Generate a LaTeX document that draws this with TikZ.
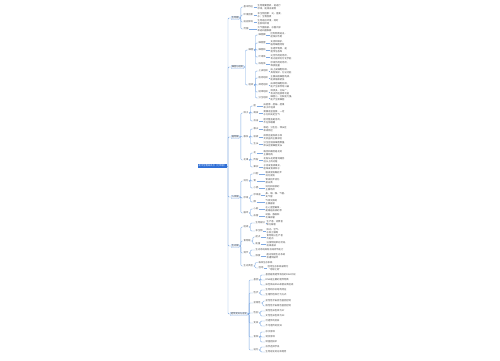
\documentclass[tikz,border=0pt]{standalone}
\usepackage{fontspec}
\newfontfamily\cjk{Noto Sans CJK SC}
\usepackage{tikz}
\usetikzlibrary{positioning}
\definecolor{mapRaiz}{HTML}{2F6FD6}
\definecolor{mapLinea}{HTML}{7FAAE3}
\definecolor{mapCaja}{HTML}{EEF4FD}
\definecolor{mapTexto}{HTML}{4A4A4A}
\colorlet{colBorde}{mapLinea!70}

\tikzset{
  raiz/.style={fill=mapRaiz, text=white, inner xsep=0.8pt, inner ysep=1.1pt},
  rama/.style={anchor=west, draw=colBorde, fill=mapCaja, line width=0.3pt, rounded corners=0.6pt, inner sep=0.6pt, text=mapTexto},
  etiq/.style={anchor=west, inner sep=0.5pt, text=mapTexto},
  hoja/.style={anchor=west, inner sep=0.5pt, align=left, text=mapTexto},
  conn/.style={draw=mapLinea, line width=0.4pt, rounded corners=1pt}
}

\begin{document}
\begin{tikzpicture}[x=1pt, y=-1pt, font=\cjk\fontsize{2.3}{2.8}\selectfont]
        \fill[white] (0,0) rectangle (500,360);
        \useasboundingbox (0,0) rectangle (500,360);

        % Raíz
        \node[raiz] (raiz) at (212.5,166) {初中生物知识点（七年级）};
        \coordinate (tronco) at (228,166);

        % Ramas principales
        \node[rama] (b1) at (231,18) {生物圈};
        \node[rama] (b2) at (231,67) {细胞与组织};
        \node[rama] (b3) at (231,137) {植物篇};
        \node[rama] (b4) at (231,197) {人体篇};
        \node[rama] (b5) at (231,246) {生态篇};
        \node[rama] (b6) at (230,314) {遗传变异与进化};

        % Rama 1
        \node[etiq] (b1a) at (243,7) {基本特征};
        \node[etiq] (b1b) at (243,15) {环境因素};
        \node[etiq] (b1c) at (243,22) {适应影响};
        \node[etiq] (b1d) at (243,29) {范围};
        \node[hoja] (b1a-t) at (257,7) {生物需要营养，能进行\\呼吸，能排出废物};
        \node[hoja] (b1b-t) at (257,15) {非生物因素：光、温度、\\水；生物因素};
        \node[hoja] (b1c-t) at (257,22) {生物适应环境，同时\\也影响环境};
        \node[hoja] (b1d-t) at (257,29) {大气圈底部、水圈大部\\和岩石圈表面};

        % Rama 2
        \node[etiq] (b2a) at (248,50) {细胞};
        \node[etiq] (b2b) at (248,85) {组织};
        \node[etiq] (b2a1) at (258,35) {细胞膜};
        \node[etiq] (b2a2) at (258,43) {细胞壁};
        \node[etiq] (b2a3) at (258,50) {细胞核};
        \node[etiq] (b2a4) at (258,57) {叶绿体};
        \node[etiq] (b2a5) at (258,64) {线粒体};
        \node[hoja] (b2a1-t) at (270,35) {控制物质进出，\\起保护作用};
        \node[hoja] (b2a2-t) at (270,43) {支持和保护，\\植物细胞特有};
        \node[hoja] (b2a3-t) at (270,50) {含遗传物质，是\\遗传信息库};
        \node[hoja] (b2a4-t) at (270,57) {光合作用的场所，\\将光能转化为化学能};
        \node[hoja] (b2a5-t) at (270,64) {呼吸作用的场所，\\释放能量};
        \node[etiq] (b2b1) at (258,71) {上皮组织};
        \node[etiq] (b2b2) at (258,78) {肌肉组织};
        \node[etiq] (b2b3) at (258,85) {神经组织};
        \node[etiq] (b2b4) at (258,92) {结缔组织};
        \node[etiq] (b2b5) at (258,98) {分生组织};
        \node[hoja] (b2b1-t) at (270,71) {由上皮细胞构成，\\具有保护、分泌功能};
        \node[hoja] (b2b2-t) at (270,78) {主要由肌细胞构成，\\能收缩和舒张};
        \node[hoja] (b2b3-t) at (270,85) {由神经细胞构成，\\能产生和传导兴奋};
        \node[hoja] (b2b4-t) at (270,92) {种类多，分布广，\\有支持连接等功能};
        \node[hoja] (b2b5-t) at (270,98) {细胞小，分裂能力强，\\能产生新细胞};

        % Rama 3
        \node[etiq] (b3a) at (243,113) {种子};
        \node[etiq] (b3b) at (243,137) {根系};
        \node[etiq] (b3c) at (243,160) {花果};
        \node[etiq] (b3a1) at (253,106) {胚};
        \node[etiq] (b3a2) at (253,113) {萌发};
        \node[etiq] (b3a3) at (253,121) {自身};
        \node[hoja] (b3a1-t) at (263,106) {由胚芽、胚轴、胚根\\和子叶组成};
        \node[hoja] (b3a2-t) at (263,113) {需要适宜温度、一定\\水分和充足空气};
        \node[hoja] (b3a3-t) at (263,121) {胚完整且是活的，\\不在休眠期};
        \node[etiq] (b3b1) at (253,129) {根尖};
        \node[etiq] (b3b2) at (253,137) {吸收};
        \node[etiq] (b3b3) at (253,144) {生长};
        \node[hoja] (b3b1-t) at (263,129) {根冠、分生区、伸长区\\和成熟区};
        \node[hoja] (b3b2-t) at (263,137) {成熟区是吸收水和\\无机盐的主要部位};
        \node[hoja] (b3b3-t) at (263,144) {分生区增加细胞数量，\\伸长区使细胞变长};
        \node[etiq] (b3c1) at (253,153) {花};
        \node[etiq] (b3c2) at (253,160) {传粉};
        \node[etiq] (b3c3) at (253,167) {果实};
        \node[hoja] (b3c1-t) at (263,153) {雄蕊和雌蕊是花的\\主要结构};
        \node[hoja] (b3c2-t) at (263,160) {花粉从花药落到雌蕊\\柱头上的过程};
        \node[hoja] (b3c3-t) at (263,167) {子房发育成果实，\\胚珠发育成种子};

        % Rama 4
        \node[etiq] (b4a) at (243,181) {消化};
        \node[etiq] (b4b) at (243,198) {呼吸};
        \node[etiq] (b4c) at (243,213) {循环};
        \node[etiq] (b4a1) at (253,174) {口腔};
        \node[etiq] (b4a2) at (253,181) {胃};
        \node[etiq] (b4a3) at (253,188) {小肠};
        \node[hoja] (b4a1-t) at (265,174) {唾液淀粉酶初步\\消化淀粉};
        \node[hoja] (b4a2-t) at (265,181) {胃液初步消化\\蛋白质};
        \node[hoja] (b4a3-t) at (265,188) {消化和吸收的\\主要场所};
        \node[etiq] (b4b1) at (253,195) {呼吸道};
        \node[etiq] (b4b2) at (253,202) {肺};
        \node[hoja] (b4b1-t) at (265,195) {鼻、咽、喉、气管、\\支气管};
        \node[hoja] (b4b2-t) at (265,202) {气体交换的\\主要器官};
        \node[etiq] (b4c1) at (253,209) {心脏};
        \node[etiq] (b4c2) at (253,216) {血管};
        \node[hoja] (b4c1-t) at (265,209) {左心室壁最厚，\\是输送血液的泵};
        \node[hoja] (b4c2-t) at (265,216) {动脉、静脉和\\毛细血管};

        % Rama 5
        \node[etiq] (b5a) at (243,227) {组成};
        \node[etiq] (b5b) at (243,241) {食物链};
        \node[etiq] (b5c) at (243,253) {调节};
        \node[etiq] (b5d) at (243,266) {生态类型};
        \node[etiq] (b5a1) at (255,223) {生物部分};
        \node[etiq] (b5a2) at (255,231) {非生物};
        \node[hoja] (b5a1-t) at (266,223) {生产者、消费者\\和分解者};
        \node[hoja] (b5a2-t) at (266,231) {阳光、空气、\\水和土壤等};
        \node[etiq] (b5b1) at (255,237) {起点};
        \node[etiq] (b5b2) at (255,244) {能量};
        \node[hoja] (b5b1-t) at (266,237) {食物链以生产者\\为起点};
        \node[hoja] (b5b2-t) at (266,244) {沿食物链单向流动，\\逐级递减};
        \node[hoja] (b5c1) at (255,250) {生态系统具有自动调节能力};
        \node[etiq] (b5c2) at (255,256) {限度};
        \node[hoja] (b5c2-t) at (266,256) {超过限度生态系统\\会遭到破坏};
        \node[hoja] (b5d1) at (258,262.5) {森林生态系统};
        \node[etiq] (b5d2) at (258,268) {湿地};
        \node[hoja] (b5d2-t) at (267,268) {湿地生态系统被称为\\“地球之肾”};

        % Rama 6
        \node[etiq] (b6a) at (253,280) {基因};
        \node[etiq] (b6b) at (253,293) {性状};
        \node[etiq] (b6c) at (253,303) {显隐性};
        \node[etiq] (b6d) at (253,313) {性别};
        \node[etiq] (b6e) at (253,323) {变异};
        \node[etiq] (b6f) at (253,337) {育种};
        \node[etiq] (b6g) at (253,350) {进化};
        \node[hoja] (b6a1) at (265,275) {基因是有遗传效应的DNA片段};
        \node[hoja] (b6a2) at (265,280) {DNA是主要的遗传物质};
        \node[hoja] (b6a3) at (265,285) {染色体由DNA和蛋白质组成};
        \node[hoja] (b6b1) at (265,290) {生物的形态结构特征};
        \node[hoja] (b6b2) at (265,295) {生理特性和行为方式};
        \node[hoja] (b6c1) at (265,301) {显性性状由显性基因控制};
        \node[hoja] (b6c2) at (265,306) {隐性性状由隐性基因控制};
        \node[hoja] (b6d1) at (265,311) {男性性染色体为XY};
        \node[hoja] (b6d2) at (265,316) {女性性染色体为XX};
        \node[hoja] (b6e1) at (265,321) {可遗传的变异};
        \node[hoja] (b6e2) at (265,326) {不可遗传的变异};
        \node[hoja] (b6f1) at (265,332) {杂交育种};
        \node[hoja] (b6f2) at (265,337) {诱变育种};
        \node[hoja] (b6f3) at (265,342) {转基因技术};
        \node[hoja] (b6g1) at (265,347) {自然选择学说};
        \node[hoja] (b6g2) at (265,352) {生物进化的总体趋势};

        % Conectores
        \draw[conn] (raiz.east) -- (tronco);
        \foreach \r in {b1,b2,b3,b4,b5,b6}
          \draw[conn] (tronco) |- (\r.west);
        \foreach \p/\h in {b1/b1a,b1/b1b,b1/b1c,b1/b1d,
                           b2/b2a,b2/b2b,b3/b3a,b3/b3b,b3/b3c,
                           b4/b4a,b4/b4b,b4/b4c,
                           b5/b5a,b5/b5b,b5/b5c,b5/b5d,
                           b6/b6a,b6/b6b,b6/b6c,b6/b6d,b6/b6e,b6/b6f,b6/b6g,
                           b2a/b2a1,b2a/b2a2,b2a/b2a3,b2a/b2a4,b2a/b2a5,
                           b2b/b2b1,b2b/b2b2,b2b/b2b3,b2b/b2b4,b2b/b2b5,
                           b3a/b3a1,b3a/b3a2,b3a/b3a3,b3b/b3b1,b3b/b3b2,b3b/b3b3,
                           b3c/b3c1,b3c/b3c2,b3c/b3c3,
                           b4a/b4a1,b4a/b4a2,b4a/b4a3,b4b/b4b1,b4b/b4b2,b4c/b4c1,b4c/b4c2,
                           b5a/b5a1,b5a/b5a2,b5b/b5b1,b5b/b5b2,b5c/b5c1,b5c/b5c2,
                           b5d/b5d1,b5d/b5d2,
                           b6a/b6a1,b6a/b6a2,b6a/b6a3,b6b/b6b1,b6b/b6b2,
                           b6c/b6c1,b6c/b6c2,b6d/b6d1,b6d/b6d2,b6e/b6e1,b6e/b6e2,
                           b6f/b6f1,b6f/b6f2,b6f/b6f3,b6g/b6g1,b6g/b6g2}
          \draw[conn] (\p.east) -- ++(1.5,0) |- (\h.west);
        % Etiqueta -> texto
        \foreach \h in {b1a,b1b,b1c,b1d,b2a1,b2a2,b2a3,b2a4,b2a5,
                        b2b1,b2b2,b2b3,b2b4,b2b5,b3a1,b3a2,b3a3,
                        b3b1,b3b2,b3b3,b3c1,b3c2,b3c3,
                        b4a1,b4a2,b4a3,b4b1,b4b2,b4c1,b4c2,
                        b5a1,b5a2,b5b1,b5b2,b5c2,b5d2}
          \draw[conn] (\h.east) -- (\h-t.west);
    \end{tikzpicture}
\end{document}
